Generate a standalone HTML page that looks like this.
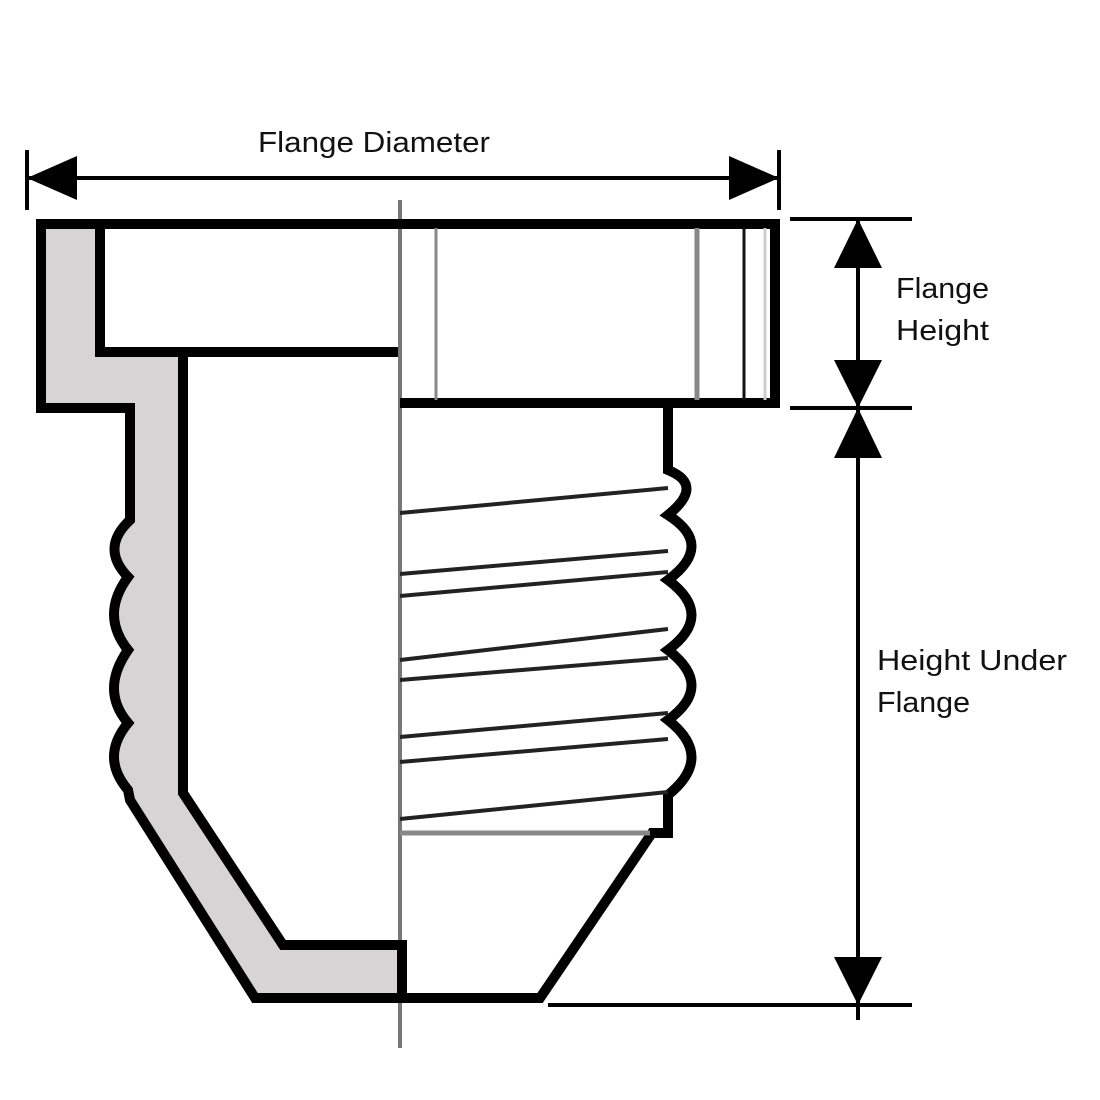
<!DOCTYPE html>
<html><head><meta charset="utf-8"><style>html,body{margin:0;padding:0;background:#fff}svg{display:block}</style></head>
<body>
<svg width="1100" height="1100" viewBox="0 0 1100 1100" xmlns="http://www.w3.org/2000/svg" font-family="Liberation Sans, sans-serif">
<rect width="1100" height="1100" fill="#fff"/>
<path d="M41,224 L100,224 L100,352 L183,352 L183,793 L283,945 L402,945 L402,998 L255,998 L130,800 L128,790 Q100,757 126,723 Q100,690 126,650 Q100,615 126,577 Q100,548 126,520 L130,408 L41,403 Z" fill="#d6d4d4"/>
<line x1="400" y1="200" x2="400" y2="1048" stroke="#777" stroke-width="4"/>
<path d="M41,408 L41,224 L775,224 L775,403 L400,403" fill="none" stroke="#000" stroke-width="10"/>
<path d="M36,408 L130,408 L130,520 Q100,548 128,577 Q100,615 128,650 Q100,690 128,723 Q100,757 128,790 L130,800 L255,998 L540,998 L652,833 L668,833 L668,795 Q715,757 668,720 Q715,686 668,650 Q715,615 668,580 Q715,545 668,515 Q705,485 668,470 L668,403" fill="none" stroke="#000" stroke-width="10" stroke-linejoin="miter"/>
<path d="M100,224 L100,352 L398,352" fill="none" stroke="#000" stroke-width="10"/>
<path d="M183,352 L183,793 L283,945 L402,945 L402,1000" fill="none" stroke="#000" stroke-width="10"/>
<line x1="436" y1="228" x2="436" y2="400" stroke="#888" stroke-width="3"/>
<line x1="697" y1="228" x2="697" y2="400" stroke="#888" stroke-width="5"/>
<line x1="744" y1="228" x2="744" y2="400" stroke="#111" stroke-width="3"/>
<line x1="765" y1="228" x2="765" y2="400" stroke="#ccc" stroke-width="3"/>
<g stroke="#222" stroke-width="4">
<line x1="400" y1="513" x2="668" y2="488"/>
<line x1="400" y1="574" x2="668" y2="551"/>
<line x1="400" y1="596" x2="668" y2="572"/>
<line x1="400" y1="660" x2="668" y2="629"/>
<line x1="400" y1="680" x2="668" y2="658"/>
<line x1="400" y1="737" x2="668" y2="713"/>
<line x1="400" y1="762" x2="668" y2="739"/>
<line x1="400" y1="819" x2="668" y2="792"/>
</g>
<line x1="400" y1="833" x2="650" y2="833" stroke="#888" stroke-width="5"/>
<g stroke="#000" stroke-width="4">
<line x1="27" y1="178" x2="779" y2="178"/>
<line x1="27" y1="150" x2="27" y2="210"/>
<line x1="779" y1="150" x2="779" y2="210"/>
<line x1="790" y1="219" x2="912" y2="219"/>
<line x1="790" y1="408" x2="912" y2="408"/>
<line x1="548" y1="1005" x2="912" y2="1005"/>
<line x1="858" y1="219" x2="858" y2="1020"/>
</g>
<g fill="#000">
<polygon points="27,178 77,156 77,200"/>
<polygon points="779,178 729,156 729,200"/>
<polygon points="858,219 834,268 882,268"/>
<polygon points="858,408 834,360 882,360"/>
<polygon points="858,408 834,458 882,458"/>
<polygon points="858,1005 834,957 882,957"/>
</g>
<g font-size="29" fill="#111">
<text x="258" y="152" textLength="232" lengthAdjust="spacingAndGlyphs">Flange Diameter</text>
<text x="896" y="298" textLength="93" lengthAdjust="spacingAndGlyphs">Flange</text>
<text x="896" y="340" textLength="93" lengthAdjust="spacingAndGlyphs">Height</text>
<text x="877" y="670" textLength="190" lengthAdjust="spacingAndGlyphs">Height Under</text>
<text x="877" y="712" textLength="93" lengthAdjust="spacingAndGlyphs">Flange</text>
</g>
</svg>
</body></html>
